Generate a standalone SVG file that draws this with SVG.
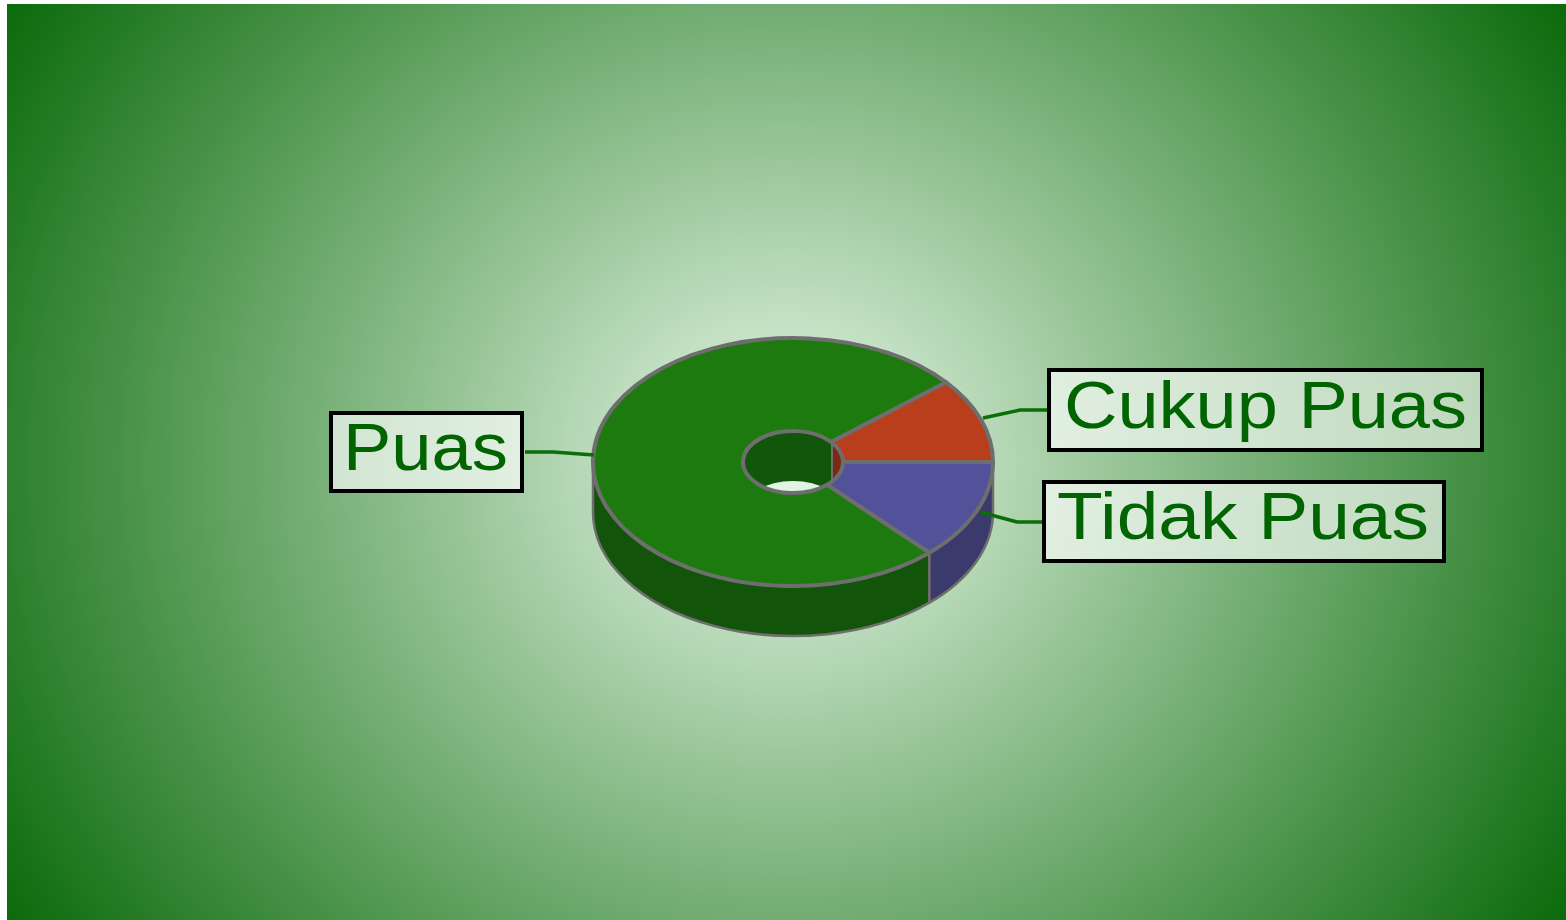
<svg xmlns="http://www.w3.org/2000/svg" width="1566" height="920" viewBox="0 0 1566 920">
  <defs>
    <radialGradient id="bg" gradientUnits="userSpaceOnUse" cx="786" cy="462" r="925" gradientTransform="translate(786 462) scale(1 0.93) translate(-786 -462)">
      <stop offset="0" stop-color="#e8f8e8"/>
      <stop offset="1" stop-color="#0a6a0a"/>
    </radialGradient>
    <clipPath id="holeClip">
      <ellipse cx="793" cy="462" rx="50" ry="31"/>
    </clipPath>
    <style>
      .edge { stroke: #6e6e6e; stroke-width: 4; stroke-linejoin: round; }
      .side { stroke: #6e6e6e; stroke-width: 2.5; stroke-linejoin: round; }
      .box { fill: #ffffff; fill-opacity: 0.66; stroke: #000000; stroke-width: 4; }
      .lbl { font-family: "Liberation Sans", Arial, sans-serif; font-size: 66px; fill: #006400; }
      .conn { fill: none; stroke: #0a6e0a; stroke-width: 3.5; }
    </style>
  </defs>

  <rect x="7" y="4" width="1559" height="916" fill="url(#bg)"/>

  <g id="donut">
    <path class="side" fill="#12540a" d="M 593 462 L 593 512 A 200 124 0 0 0 929.4 602.7 L 929.4 552.7 A 200 124 0 0 1 593 462 Z"/>
    <path class="side" fill="#3a3a6c" d="M 929.4 552.7 L 929.4 602.7 A 200 124 0 0 0 993 512 L 993 462 A 200 124 0 0 1 929.4 552.7 Z"/>
    <ellipse cx="793" cy="462" rx="50" ry="31" fill="#11560b"/>
    <path fill="#7a2a10" d="M 832 442.6 A 50 31 0 0 1 832 481.4 Z"/>
    <ellipse cx="793" cy="512" rx="50" ry="31" fill="url(#bg)" clip-path="url(#holeClip)"/>
    <line x1="832" y1="443" x2="832" y2="481" stroke="#6e6e6e" stroke-width="2"/>
    <g id="slice-puas">
      <path class="edge" fill="#1c7a0e" d="M 929.4 552.7 A 200 124 0 1 1 946.2 382.3 L 831.3 442.1 A 50 31 0 1 0 827.1 484.7 Z"/>
    </g>
    <g id="slice-cukup">
      <path class="edge" fill="#b83e1c" d="M 946.2 382.3 A 200 124 0 0 1 993 462 L 843 462 A 50 31 0 0 0 831.3 442.1 Z"/>
    </g>
    <g id="slice-tidak">
      <path class="edge" fill="#52529a" d="M 993 462 A 200 124 0 0 1 929.4 552.7 L 827.1 484.7 A 50 31 0 0 0 843 462 Z"/>
    </g>
  </g>

  <g id="connectors">
    <polyline class="conn" points="525,452 553,452 594,455"/>
    <polyline class="conn" points="983,418 1020,410 1049,410"/>
    <polyline class="conn" points="980,512 1017,522 1044,522"/>
  </g>

  <g id="label-puas">
    <rect class="box" x="331" y="413" width="191" height="78"/>
    <text class="lbl" x="343" y="470" textLength="165" lengthAdjust="spacingAndGlyphs">Puas</text>
  </g>
  <g id="label-cukup">
    <rect class="box" x="1049" y="370" width="433" height="80"/>
    <text class="lbl" x="1064" y="428" textLength="403" lengthAdjust="spacingAndGlyphs">Cukup Puas</text>
  </g>
  <g id="label-tidak">
    <rect class="box" x="1044" y="482" width="400" height="79"/>
    <text class="lbl" x="1057" y="539" textLength="372" lengthAdjust="spacingAndGlyphs">Tidak Puas</text>
  </g>
</svg>
